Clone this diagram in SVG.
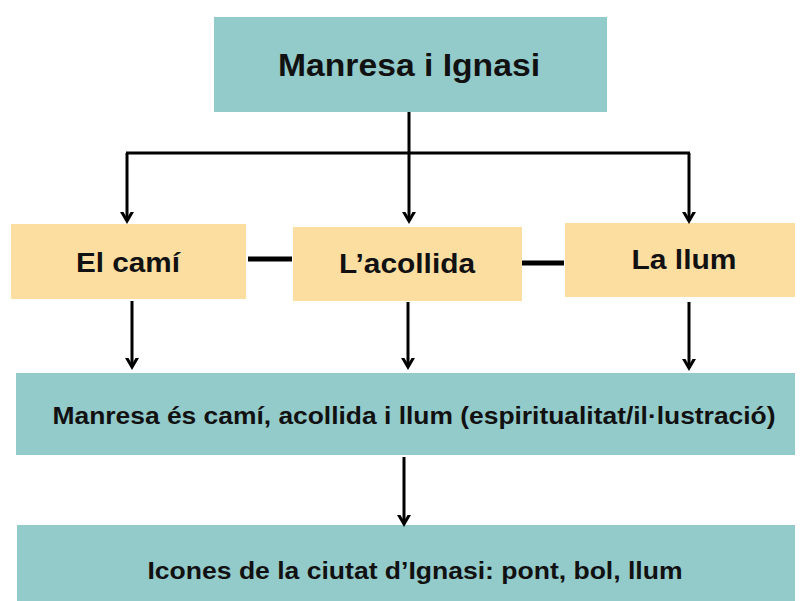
<svg xmlns="http://www.w3.org/2000/svg" width="802" height="601" viewBox="0 0 802 601">
<defs>
<style>
.teal{fill:#93CACA;}
.peach{fill:#FCDEA1;}
.t{font-family:"Liberation Sans",Arial,sans-serif;font-weight:bold;fill:#111;text-anchor:middle;}
.ln{stroke:#000;stroke-width:3;fill:none;}
.ar{stroke:#000;stroke-width:3;fill:none;marker-end:url(#ah);}
.bar{stroke:#000;stroke-width:5;fill:none;}
</style>
<marker id="ah" markerUnits="userSpaceOnUse" viewBox="-9 -9 18 18" refX="0" refY="0" markerWidth="18" markerHeight="18" orient="auto">
<path d="M-12,-7 L0,0 L-12,7" stroke="#000" stroke-width="3" fill="none" stroke-linejoin="miter"/>
</marker>
</defs>
<rect width="802" height="601" fill="#fff"/>
<g id="n-top">
<rect class="teal" x="214" y="17" width="393" height="95"/>
<text class="t" x="409" y="76" font-size="31" textLength="262" lengthAdjust="spacingAndGlyphs">Manresa i Ignasi</text>
</g>
<g id="n-cami">
<rect class="peach" x="11" y="224" width="235" height="75"/>
<text class="t" x="128" y="272" font-size="27" textLength="104" lengthAdjust="spacingAndGlyphs">El camí</text>
</g>
<g id="n-acollida">
<rect class="peach" x="293" y="227" width="229" height="74"/>
<text class="t" x="407" y="273" font-size="27" textLength="136" lengthAdjust="spacingAndGlyphs">L’acollida</text>
</g>
<g id="n-llum">
<rect class="peach" x="565" y="223" width="230" height="74"/>
<text class="t" x="684" y="269" font-size="27" textLength="105" lengthAdjust="spacingAndGlyphs">La llum</text>
</g>
<g id="n-manresa">
<rect class="teal" x="16" y="373" width="779" height="82"/>
<text class="t" x="414" y="424" font-size="23" textLength="723" lengthAdjust="spacingAndGlyphs">Manresa és camí, acollida i llum (espiritualitat/il·lustració)</text>
</g>
<g id="n-icones">
<rect class="teal" x="17" y="525" width="778" height="76"/>
<text class="t" x="415" y="579" font-size="23" textLength="535" lengthAdjust="spacingAndGlyphs">Icones de la ciutat d’Ignasi: pont, bol, llum</text>
</g>
<g id="connectors">
<path class="ln" d="M409,112 V153 M126,153 H690"/>
<path class="ar" d="M127,153 V221"/>
<path class="ar" d="M409,153 V221"/>
<path class="ar" d="M689,153 V221"/>
<path class="bar" d="M248,259 H292 M522,263 H564"/>
<path class="ar" d="M132,301 V367"/>
<path class="ar" d="M408,302 V367"/>
<path class="ar" d="M689,302 V368"/>
<path class="ar" d="M404,457 V524"/>
</g>
</svg>
